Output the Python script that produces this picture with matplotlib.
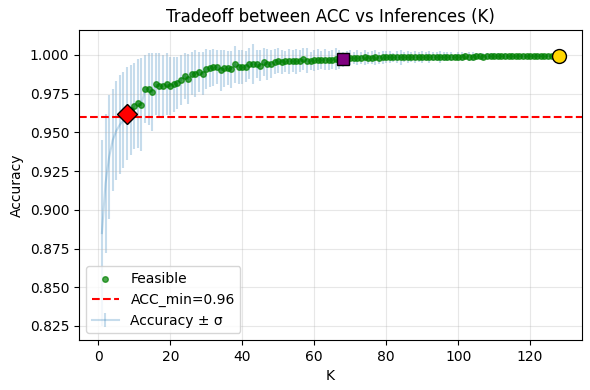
import matplotlib
matplotlib.use("Agg")
import matplotlib.pyplot as plt
import numpy as np

K = list(range(1, 129))

acc_mean = [
    0.885, 0.917, 0.934, 0.945, 0.951, 0.955, 0.958, 0.962, 0.9645, 0.967,
    0.9687, 0.968, 0.978, 0.978, 0.976, 0.981, 0.980, 0.980, 0.981, 0.980,
    0.981, 0.982, 0.984, 0.9865, 0.9843, 0.988, 0.988, 0.989, 0.988, 0.991,
    0.9914, 0.992, 0.9925, 0.990, 0.9914, 0.9914, 0.9908, 0.994, 0.9923, 0.9925,
    0.9925, 0.9942, 0.994, 0.994, 0.9931, 0.9953, 0.994, 0.994, 0.9957, 0.9963,
    0.9955, 0.9958, 0.996, 0.9962, 0.9958, 0.996, 0.9972, 0.9962, 0.996, 0.9965,
    0.997, 0.9968, 0.997, 0.9966, 0.997, 0.9972, 0.997, 0.9972, 0.9978, 0.9982,
    0.9980, 0.9983, 0.9981, 0.9984, 0.9982, 0.9983, 0.9985, 0.9982, 0.9984, 0.9985,
    0.9986, 0.9984, 0.9986, 0.9985, 0.9987, 0.9985, 0.9986, 0.9988, 0.9986, 0.9987,
    0.9988, 0.9986, 0.9988, 0.9989, 0.9987, 0.9988, 0.9990, 0.9988, 0.9989, 0.9990,
    0.9989, 0.9991, 0.9990, 0.9989, 0.9991, 0.9992, 0.9990, 0.9991, 0.9992, 0.9991,
    0.9992, 0.9993, 0.9991, 0.9992, 0.9993, 0.9992, 0.9994, 0.9993, 0.9992, 0.9994,
    0.9993, 0.9994, 0.9995, 0.9993, 0.9994, 0.9995, 0.9994, 0.9996,
]

acc_std = [
    0.060, 0.045, 0.040, 0.033, 0.032, 0.032, 0.031, 0.030, 0.029, 0.028,
    0.029, 0.030, 0.022, 0.023, 0.025, 0.020, 0.021, 0.020, 0.020, 0.019,
    0.018, 0.017, 0.016, 0.015, 0.016, 0.014, 0.015, 0.013, 0.014, 0.013,
    0.012, 0.012, 0.011, 0.013, 0.012, 0.011, 0.012, 0.012, 0.011, 0.011,
    0.010, 0.010, 0.013, 0.009, 0.010, 0.009, 0.010, 0.009, 0.008, 0.008,
    0.008, 0.007, 0.008, 0.007, 0.008, 0.007, 0.007, 0.008, 0.006, 0.007,
    0.007, 0.006, 0.007, 0.006, 0.006, 0.007, 0.006, 0.005, 0.005, 0.005,
    0.004, 0.005, 0.004, 0.005, 0.004, 0.004, 0.005, 0.004, 0.004, 0.004,
    0.004, 0.003, 0.004, 0.005, 0.003, 0.004, 0.003, 0.004, 0.003, 0.004,
    0.003, 0.004, 0.003, 0.003, 0.004, 0.003, 0.003, 0.003, 0.002, 0.003,
    0.003, 0.002, 0.003, 0.003, 0.002, 0.002, 0.002, 0.002, 0.002, 0.002,
    0.002, 0.001, 0.002, 0.001, 0.002, 0.001, 0.001, 0.001, 0.001, 0.001,
    0.001, 0.001, 0.001, 0.001, 0.001, 0.001, 0.001, 0.000,
]

acc_min = 0.96
k_min_feasible = 8
k_best_tradeoff = 68
k_max = 128

K_arr = np.array(K)
mean_arr = np.array(acc_mean)
std_arr = np.array(acc_std)
feasible = mean_arr >= acc_min

fig, ax = plt.subplots(figsize=(5.9, 3.9), dpi=100)
fig.subplots_adjust(left=0.134, right=0.986, top=0.923, bottom=0.128)

ax.errorbar(K_arr, mean_arr, yerr=std_arr, color='tab:blue', alpha=0.25,
            label='Accuracy ± σ', zorder=1)
ax.scatter(K_arr[feasible], mean_arr[feasible], s=16, color='green',
           alpha=0.7, label='Feasible', zorder=2)
ax.axhline(acc_min, color='red', linestyle='--', label=f'ACC_min={acc_min}', zorder=2)

i1 = K.index(k_min_feasible)
i2 = K.index(k_best_tradeoff)
i3 = K.index(k_max)
ax.plot(K[i1], acc_mean[i1], marker='D', markersize=10, color='red',
        markeredgecolor='black', linestyle='none', zorder=4)
ax.plot(K[i2], acc_mean[i2], marker='s', markersize=9, color='purple',
        markeredgecolor='black', linestyle='none', zorder=4)
ax.plot(K[i3], acc_mean[i3], marker='o', markersize=10, color='gold',
        markeredgecolor='black', linestyle='none', zorder=4)

ax.set_title('Tradeoff between ACC vs Inferences (K)')
ax.set_xlabel('K')
ax.set_ylabel('Accuracy')
ax.grid(True, alpha=0.3)
ax.legend(loc='lower left')

fig.savefig('out.png', dpi=100)
